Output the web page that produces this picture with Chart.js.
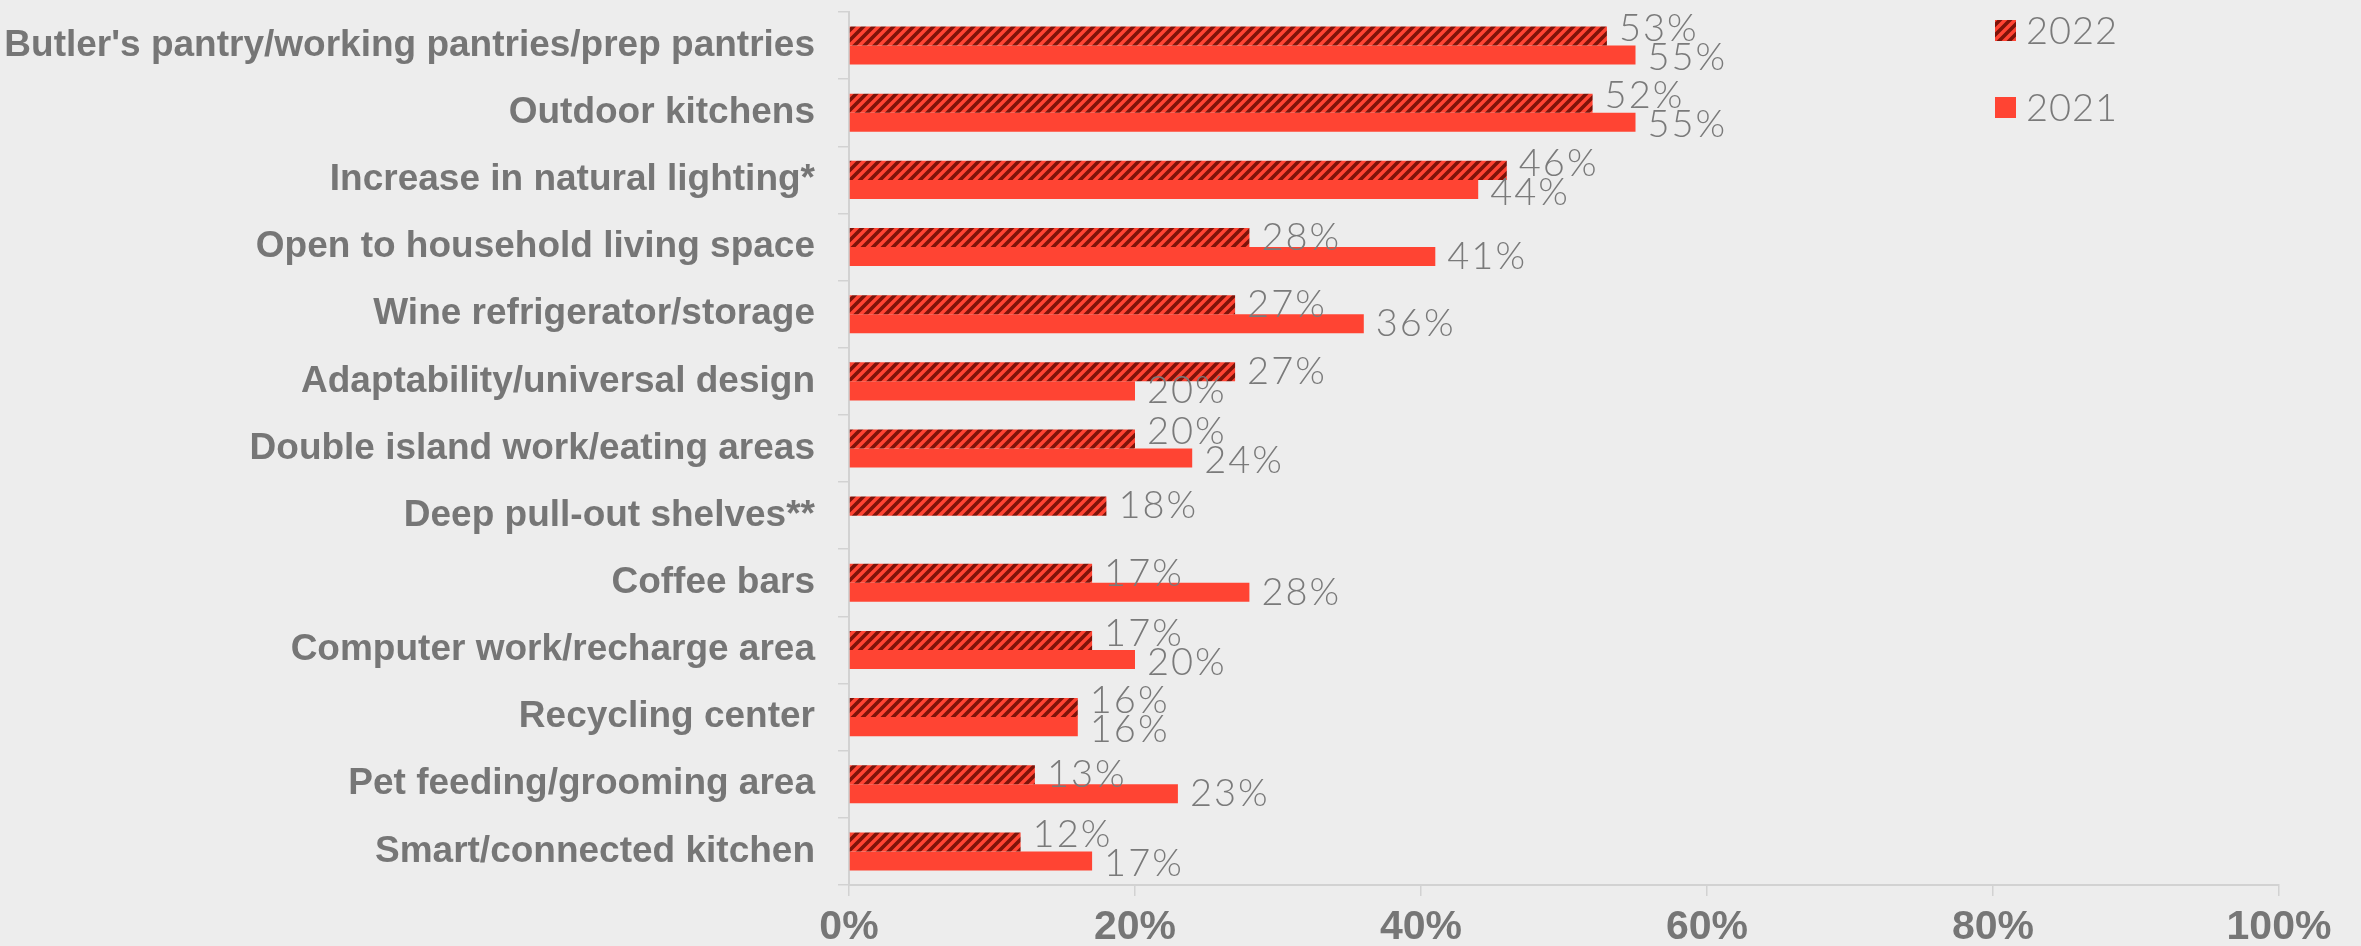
<!DOCTYPE html>
<html>
<head>
<meta charset="utf-8">
<title>Kitchen features</title>
<script src="https://cdn.jsdelivr.net/npm/chart.js@4.4.1/dist/chart.umd.min.js"></script>
<style>
  html, body { margin: 0; padding: 0; background: #ededed; }
  #wrap { width: 2361px; height: 946px; }
</style>
</head>
<body>
<div id="wrap"><canvas id="chart" width="2361" height="946"></canvas></div>
<script>
const categories = [
  "Butler's pantry/working pantries/prep pantries",
  "Outdoor kitchens",
  "Increase in natural lighting*",
  "Open to household living space",
  "Wine refrigerator/storage",
  "Adaptability/universal design",
  "Double island work/eating areas",
  "Deep pull-out shelves**",
  "Coffee bars",
  "Computer work/recharge area",
  "Recycling center",
  "Pet feeding/grooming area",
  "Smart/connected kitchen"
];
const values2022 = [53, 52, 46, 28, 27, 27, 20, 18, 17, 17, 16, 13, 12];
const values2021 = [55, 55, 44, 41, 36, 20, 24, null, 28, 20, 16, 23, 17];
const seriesNames = ["2022", "2021"];
const xTicks = [0, 20, 40, 60, 80, 100];

const RED = "#ff4433";
const DARK = "#7d1309";
const GREY_TEXT = "#767676";
const LABEL_TEXT = "#7a7a7a";
const AXIS = "#d2d2d2";

// diagonal "/" stripes for the 2022 series
const makeHatch = (fg, bg, size) => {
  const c = document.createElement("canvas");
  c.width = c.height = size;
  const g = c.getContext("2d");
  g.fillStyle = bg;
  g.fillRect(0, 0, size, size);
  g.strokeStyle = fg;
  g.lineWidth = size * 0.36;
  g.lineCap = "square";
  g.beginPath();
  g.moveTo(0, size); g.lineTo(size, 0);
  g.moveTo(-size / 2, size / 2); g.lineTo(size / 2, -size / 2);
  g.moveTo(size / 2, size * 1.5); g.lineTo(size * 1.5, size / 2);
  g.stroke();
  return g.createPattern(c, "repeat");
};

const valueLabels = {
  id: "valueLabels",
  afterDatasetsDraw(chart) {
    const { ctx } = chart;
    ctx.save();
    ctx.font = "300 38px Lato, 'Open Sans', sans-serif";
    ctx.letterSpacing = "2px";
    ctx.fillStyle = LABEL_TEXT;
    ctx.textBaseline = "middle";
    categories.forEach((_, i) => {
      const items = chart.data.datasets.map((ds, d) => {
        const v = ds.data[i];
        if (v == null) return null;
        const bar = chart.getDatasetMeta(d).data[i];
        const text = `${v}%`;
        return { text, x: bar.x + 12, y: bar.y, w: ctx.measureText(text).width };
      });
      const [a, b] = items;
      // pull the pair apart a little when they collide
      if (a && b && a.x < b.x + b.w && b.x < a.x + a.w) {
        a.y -= 7;
        b.y += 3;
      }
      items.forEach((it) => it && ctx.fillText(it.text, it.x, it.y));
    });
    ctx.restore();
  }
};

const cornerLegend = {
  id: "cornerLegend",
  afterDraw(chart) {
    const { ctx, chartArea } = chart;
    const x = chartArea.right - 284;
    let y = chartArea.top + 8;
    ctx.save();
    ctx.font = "300 38px Lato, 'Open Sans', sans-serif";
    ctx.letterSpacing = "1px";
    ctx.textBaseline = "middle";
    chart.data.datasets.forEach((ds) => {
      ctx.fillStyle = ds.backgroundColor;
      ctx.fillRect(x, y, 21, 21);
      ctx.fillStyle = LABEL_TEXT;
      ctx.fillText(ds.label, x + 31, y + 12);
      y += 77;
    });
    ctx.restore();
  }
};

const start = () => {
  const canvas = document.getElementById("chart");
  new Chart(canvas.getContext("2d"), {
    type: "bar",
    data: {
      labels: categories,
      datasets: [
        {
          label: seriesNames[0],
          data: values2022,
          backgroundColor: makeHatch(DARK, RED, 10),
          borderWidth: 0
        },
        {
          label: seriesNames[1],
          data: values2021,
          backgroundColor: RED,
          borderWidth: 0
        }
      ]
    },
    options: {
      indexAxis: "y",
      responsive: false,
      animation: false,
      devicePixelRatio: 1,
      categoryPercentage: 0.567,
      barPercentage: 1,
      layout: { padding: { top: 12, right: 82, left: 0, bottom: 0 } },
      plugins: {
        legend: { display: false },
        tooltip: { enabled: false }
      },
      scales: {
        x: {
          min: 0,
          max: 100,
          afterBuildTicks: (scale) => {
            scale.ticks = xTicks.map((value) => ({ value }));
          },
          afterFit: (scale) => {
            scale.height = 61;
            scale.paddingLeft = 0;
            scale.paddingRight = 0;
          },
          border: { color: AXIS, width: 2 },
          grid: { drawOnChartArea: false, color: AXIS, tickLength: 11, lineWidth: 1.5 },
          ticks: {
            padding: 7,
            color: GREY_TEXT,
            font: { family: "'Liberation Sans', Arial, sans-serif", size: 41, weight: "bold" },
            callback: (v) => `${v}%`
          }
        },
        y: {
          afterFit: (scale) => {
            scale.width = 849;
            scale.paddingTop = 0;
            scale.paddingBottom = 0;
          },
          border: { color: AXIS, width: 2 },
          grid: { drawOnChartArea: false, color: AXIS, tickLength: 11, lineWidth: 1.5, offset: true },
          ticks: {
            padding: 23,
            color: GREY_TEXT,
            font: { family: "'Liberation Sans', Arial, sans-serif", size: 37, weight: "bold" }
          }
        }
      }
    },
    plugins: [valueLabels, cornerLegend]
  });
};

Promise.all([
  document.fonts.load("300 38px Lato"),
  document.fonts.load("bold 37px 'Liberation Sans'")
]).catch(() => {}).then(start);
</script>
</body>
</html>
